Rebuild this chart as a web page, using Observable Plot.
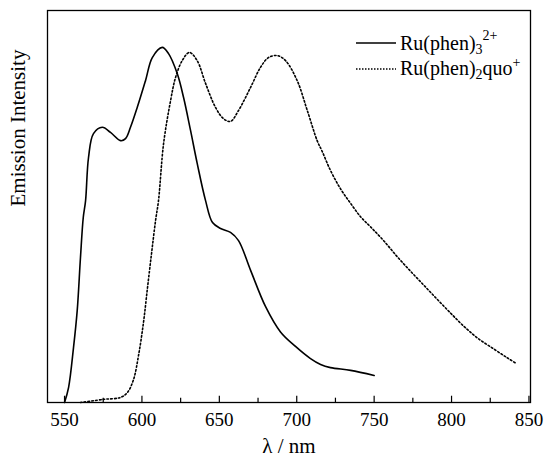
<!DOCTYPE html>
<html>
<head>
<meta charset="utf-8">
<script src="https://cdn.jsdelivr.net/npm/d3@7"></script>
<script src="https://cdn.jsdelivr.net/npm/@observablehq/plot@0.6"></script>
<style>
  html, body { margin: 0; padding: 0; background: #fff; }
  #chart { position: relative; width: 548px; height: 465px; }
</style>
</head>
<body>
<div id="chart"></div>
<script>
// Ru(phen)3 2+ (solid)
const solidWavelength = [550, 552.6, 555.8, 558.2, 560.3, 562.1, 563.6, 565.5, 568.7, 574.4, 579.7, 586.2, 589.4, 592.6, 597.0, 602.3, 606.7, 613.1, 617.2, 622.8, 626.9, 631.4, 635.7, 641.1, 645.6, 650.8, 657.2, 662.4, 670.2, 679.8, 689.5, 699.2, 708.9, 715.4, 721.8, 734.8, 750];
const solidIntensity = [0, 0.038, 0.140, 0.235, 0.370, 0.472, 0.515, 0.625, 0.686, 0.702, 0.689, 0.668, 0.673, 0.702, 0.753, 0.821, 0.880, 0.906, 0.890, 0.839, 0.778, 0.694, 0.610, 0.515, 0.459, 0.444, 0.434, 0.413, 0.337, 0.245, 0.180, 0.143, 0.112, 0.097, 0.089, 0.082, 0.069];

// Ru(phen)2quo+ (dotted)
const dottedWavelength = [560.3, 575.2, 586.2, 590.7, 594.6, 597.8, 601.0, 603.6, 606.2, 608.8, 610.7, 614.0, 618.5, 621.7, 626.0, 630.7, 635.7, 641.1, 647.5, 652.7, 657.2, 662.4, 670.2, 676.6, 681.8, 687.4, 692.8, 700.3, 706.8, 713.2, 716.5, 721.8, 728.3, 734.8, 741.2, 747.7, 756.1, 764.9, 773.5, 781.9, 790.8, 799.4, 807.8, 816.6, 827.1, 836.0, 842.0];
const dottedIntensity = [0, 0.008, 0.013, 0.026, 0.059, 0.120, 0.204, 0.293, 0.380, 0.464, 0.515, 0.661, 0.770, 0.829, 0.872, 0.893, 0.872, 0.814, 0.753, 0.724, 0.717, 0.745, 0.804, 0.855, 0.880, 0.885, 0.872, 0.821, 0.745, 0.668, 0.640, 0.592, 0.545, 0.508, 0.474, 0.448, 0.413, 0.372, 0.335, 0.300, 0.263, 0.228, 0.195, 0.165, 0.137, 0.114, 0.099];

const majorTicks = [550, 600, 650, 700, 750, 800, 850];
const minorTicks = [575, 625, 675, 725, 775, 825];
const xLabel = "λ / nm";
const yLabel = "Emission Intensity";

const solid = solidWavelength.map((w, i) => ({w, v: solidIntensity[i]}));
const dotted = dottedWavelength.map((w, i) => ({w, v: dottedIntensity[i]}));

const font = "'Liberation Serif', 'Times New Roman', serif";

const plot = Plot.plot({
  width: 548,
  height: 465,
  marginLeft: 47,
  marginRight: 18,
  marginTop: 10,
  marginBottom: 63,
  style: {fontFamily: font, fontSize: "19px", color: "#000", background: "#fff", overflow: "visible"},
  x: {domain: [539, 851], axis: null},
  y: {domain: [0, 1], axis: null},
  marks: [
    Plot.ruleX(majorTicks, {x: d => d, y1: 0, y2: 0.016, stroke: "#000", strokeWidth: 1.2}),
    Plot.ruleX(minorTicks, {x: d => d, y1: 0, y2: 0.011, stroke: "#000", strokeWidth: 1.2}),
    Plot.axisX({ticks: majorTicks, tickSize: 0, tickPadding: 10, tickFormat: d => String(d), label: null, fontSize: 19}),
    Plot.text([xLabel], {frameAnchor: "bottom", text: d => d, dy: 50, fontSize: 21}),
    Plot.text([yLabel], {frameAnchor: "left", text: d => d, rotate: -90, dx: -29, fontSize: 21}),
    Plot.line(solid, {x: "w", y: "v", stroke: "#000", strokeWidth: 1.6, curve: "catmull-rom"}),
    Plot.line(dotted, {x: "w", y: "v", stroke: "#000", strokeWidth: 1.6, strokeDasharray: "1.6,2.2", curve: "catmull-rom"}),
    Plot.frame({stroke: "#000", strokeWidth: 1.3})
  ]
});

document.getElementById("chart").appendChild(plot);

// Legend
const svg = d3.select(plot);
const leg = svg.append("g").attr("font-family", font).attr("font-size", 20)
  .attr("fill", "#000").attr("text-anchor", "start");
leg.append("line").attr("x1", 356).attr("x2", 396).attr("y1", 43).attr("y2", 43)
  .attr("stroke", "#000").attr("stroke-width", 1.3);
leg.append("line").attr("x1", 356).attr("x2", 396).attr("y1", 69).attr("y2", 69)
  .attr("stroke", "#000").attr("stroke-width", 1.3).attr("stroke-dasharray", "1.5,1.5");
const t1 = leg.append("text").attr("x", 400).attr("y", 50);
t1.append("tspan").text("Ru(phen)");
t1.append("tspan").attr("dy", 4).attr("font-size", 14).text("3");
t1.append("tspan").attr("dy", -14).attr("font-size", 14).text("2+");
const t2 = leg.append("text").attr("x", 400).attr("y", 75);
t2.append("tspan").text("Ru(phen)");
t2.append("tspan").attr("dy", 4).attr("font-size", 14).text("2");
t2.append("tspan").attr("dy", -4).text("quo");
t2.append("tspan").attr("dy", -8).attr("font-size", 14).text("+");
</script>
</body>
</html>
